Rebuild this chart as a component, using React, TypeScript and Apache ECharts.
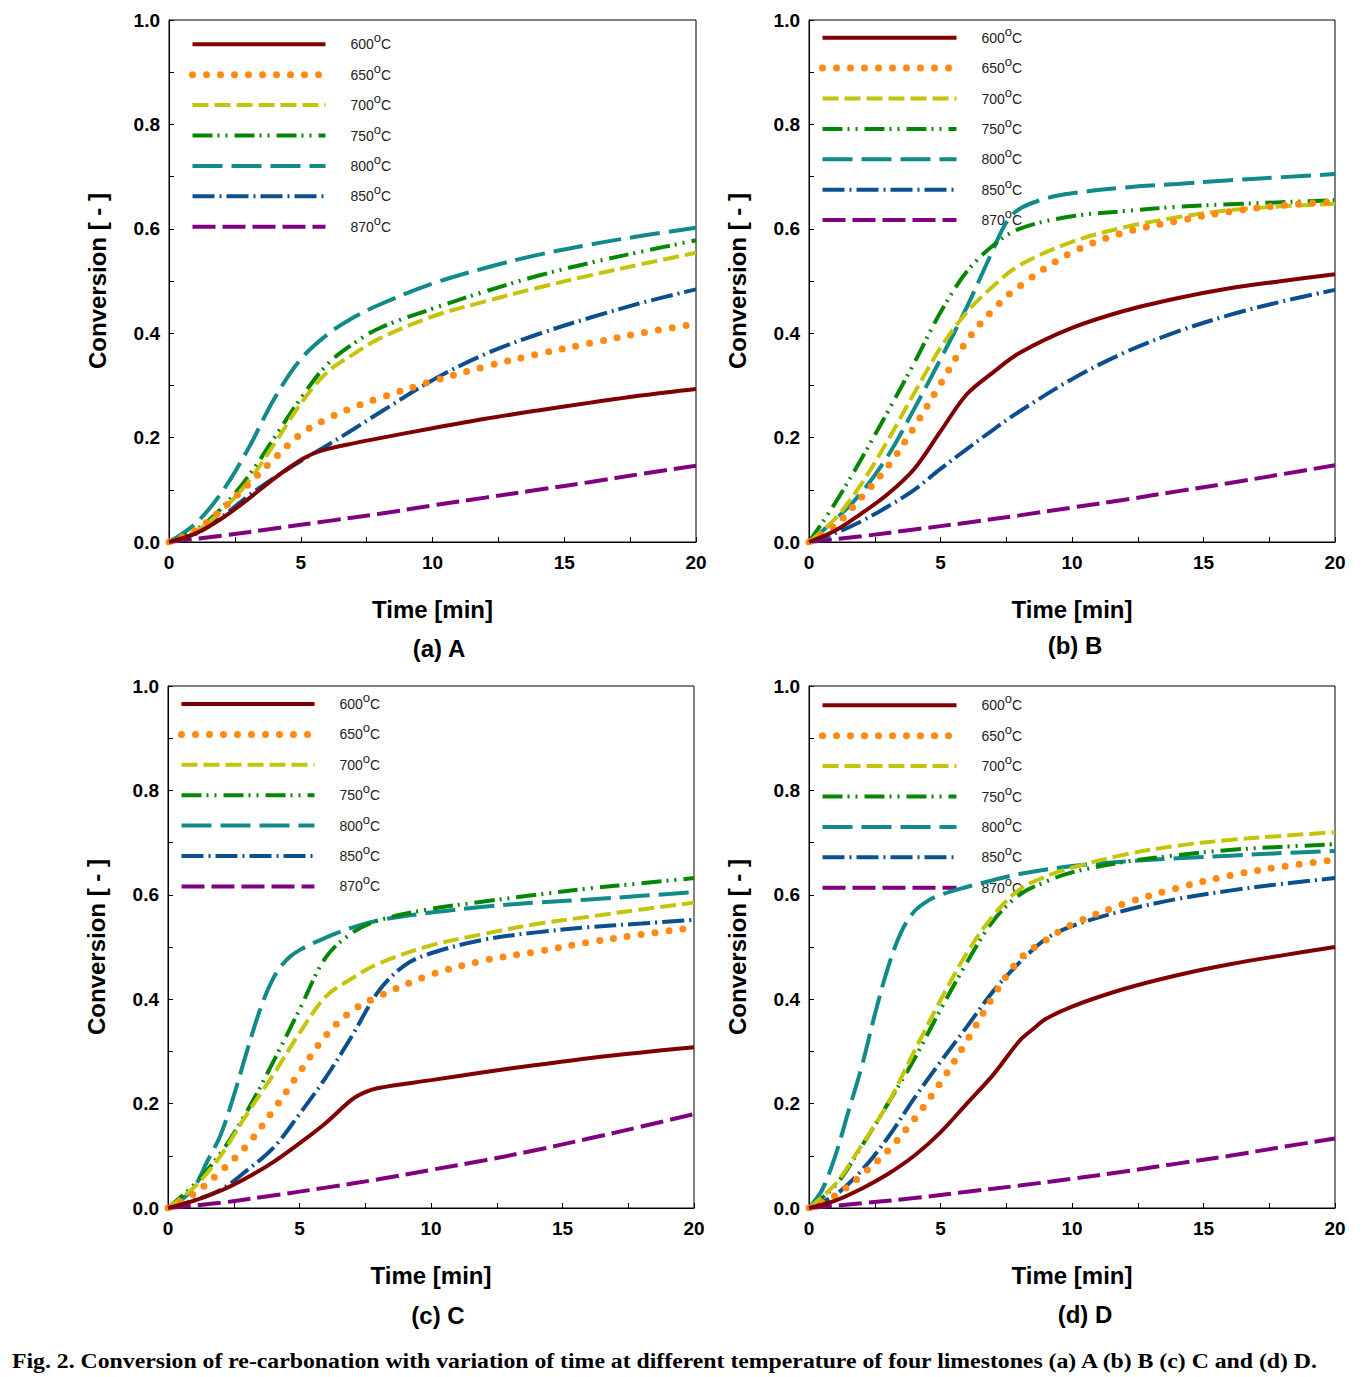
import React, { useEffect, useRef } from 'react';
import * as echarts from 'echarts';

type P = [number, number][];

const TEMPS = ['600°C', '650°C', '700°C', '750°C', '800°C', '850°C', '870°C'];
const X_TICKS = [0, 5, 10, 15, 20];
const Y_TICKS = [0, 0.2, 0.4, 0.6, 0.8, 1.0];

// (a) A
const A600: P = [[0,0],[1,0.016],[2,0.045],[3,0.082],[4,0.122],[5,0.157],[5.5,0.17],[6,0.178],[7,0.189],[8,0.199],[10,0.218],[12,0.236],[14,0.252],[16,0.267],[18,0.281],[20,0.293]];
const A650: P = [[0,0],[1,0.022],[2,0.062],[3,0.11],[4,0.16],[5,0.207],[6,0.236],[7,0.258],[8,0.276],[10,0.308],[12,0.336],[14,0.36],[16,0.381],[18,0.401],[20,0.418]];
const A700: P = [[0,0],[1,0.02],[2,0.06],[3,0.115],[4,0.188],[5,0.265],[6,0.325],[7,0.36],[8,0.39],[10,0.432],[12,0.461],[14,0.487],[16,0.511],[18,0.533],[20,0.554]];
const A750: P = [[0,0],[1,0.022],[2,0.065],[3,0.125],[4,0.2],[5,0.275],[6,0.34],[7,0.38],[8,0.41],[10,0.447],[12,0.48],[14,0.51],[16,0.535],[18,0.557],[20,0.578]];
const A800: P = [[0,0],[1,0.035],[2,0.095],[3,0.178],[4,0.275],[5,0.35],[6,0.397],[7,0.43],[8,0.455],[10,0.495],[12,0.525],[14,0.55],[16,0.57],[18,0.587],[20,0.602]];
const A850: P = [[0,0],[1,0.015],[2,0.048],[3,0.088],[4,0.123],[5,0.155],[6,0.185],[7,0.216],[8,0.248],[10,0.31],[12,0.36],[14,0.398],[16,0.43],[18,0.459],[20,0.484]];
const A870: P = [[0,0],[2,0.012],[4,0.026],[6,0.04],[8,0.054],[10,0.07],[12,0.085],[14,0.1],[16,0.115],[18,0.131],[20,0.146]];

// (b) B
const B600: P = [[0,0],[1,0.022],[2,0.055],[3,0.092],[4,0.14],[5,0.212],[6,0.283],[7,0.325],[8,0.362],[10,0.41],[12,0.443],[14,0.467],[16,0.486],[18,0.5],[20,0.513]];
const B650: P = [[0,0],[1,0.032],[2,0.086],[3,0.145],[4,0.22],[5,0.303],[6,0.385],[7,0.445],[8,0.49],[10,0.555],[12,0.593],[14,0.615],[16,0.633],[18,0.645],[20,0.652]];
const B700: P = [[0,0],[1,0.045],[2,0.112],[3,0.195],[4,0.285],[5,0.372],[6,0.44],[7,0.49],[8,0.53],[10,0.575],[12,0.603],[14,0.622],[16,0.636],[18,0.643],[20,0.648]];
const B750: P = [[0,0],[1,0.075],[2,0.16],[3,0.25],[4,0.343],[5,0.44],[6,0.518],[7,0.568],[8,0.6],[10,0.624],[12,0.634],[14,0.642],[16,0.647],[18,0.651],[20,0.655]];
const B800: P = [[0,0],[1,0.043],[2,0.095],[3,0.165],[4,0.255],[5,0.35],[6,0.45],[7,0.56],[7.5,0.612],[8,0.638],[9,0.658],[10,0.668],[12,0.679],[14,0.686],[16,0.693],[18,0.699],[20,0.705]];
const B850: P = [[0,0],[1,0.017],[2,0.04],[3,0.068],[4,0.1],[5,0.14],[6,0.178],[7,0.215],[8,0.25],[10,0.312],[12,0.363],[14,0.403],[16,0.435],[18,0.461],[20,0.483]];
const B870: P = [[0,0],[2,0.011],[4,0.024],[6,0.037],[8,0.051],[10,0.066],[12,0.081],[14,0.097],[16,0.113],[18,0.13],[20,0.147]];

// (c) C
const C600: P = [[0,0],[1,0.014],[2,0.033],[3,0.058],[4,0.088],[5,0.124],[6,0.163],[7,0.208],[7.5,0.222],[8,0.23],[10,0.245],[12,0.26],[14,0.274],[16,0.287],[18,0.298],[20,0.308]];
const C650: P = [[0,0],[1,0.028],[2,0.07],[3,0.12],[4,0.187],[5,0.26],[6,0.33],[7,0.378],[8,0.405],[10,0.447],[12,0.474],[14,0.491],[16,0.509],[18,0.524],[20,0.537]];
const C700: P = [[0,0],[1,0.04],[2,0.1],[3,0.18],[4,0.255],[5,0.335],[6,0.405],[7,0.44],[8,0.468],[10,0.503],[12,0.525],[14,0.544],[16,0.558],[18,0.572],[20,0.585]];
const C750: P = [[0,0],[1,0.045],[2,0.105],[3,0.185],[4,0.28],[5,0.38],[6,0.48],[7,0.527],[8,0.551],[10,0.573],[12,0.587],[14,0.6],[16,0.612],[18,0.622],[20,0.632]];
const C800: P = [[0,0],[0.5,0.015],[1,0.04],[1.5,0.09],[2,0.14],[2.5,0.215],[3,0.3],[3.5,0.38],[4,0.44],[4.5,0.475],[5,0.494],[6,0.518],[7,0.537],[8,0.551],[10,0.566],[12,0.577],[14,0.585],[16,0.591],[18,0.598],[20,0.605]];
const C850: P = [[0,0],[1,0.015],[2,0.035],[3,0.072],[4,0.115],[5,0.18],[6,0.25],[7,0.33],[8,0.415],[9,0.465],[10,0.488],[12,0.514],[14,0.528],[16,0.538],[18,0.545],[20,0.552]];
const C870: P = [[0,0],[2,0.01],[4,0.024],[6,0.039],[8,0.055],[10,0.073],[12,0.091],[14,0.111],[16,0.133],[18,0.156],[20,0.18]];

// (d) D
const D600: P = [[0,0],[1,0.014],[2,0.037],[3,0.065],[4,0.1],[5,0.145],[6,0.2],[7,0.255],[8,0.32],[8.5,0.342],[9,0.362],[10,0.386],[12,0.42],[14,0.446],[16,0.467],[18,0.484],[20,0.5]];
const D650: P = [[0,0],[1,0.024],[2,0.063],[3,0.11],[4,0.17],[5,0.24],[6,0.32],[7,0.405],[8,0.476],[9,0.513],[10,0.543],[12,0.583],[14,0.613],[16,0.637],[18,0.654],[20,0.667]];
const D700: P = [[0,0],[1,0.046],[2,0.12],[3,0.2],[4,0.3],[5,0.398],[6,0.488],[7,0.56],[8,0.61],[9,0.635],[10,0.652],[12,0.677],[14,0.694],[16,0.705],[18,0.713],[20,0.72]];
const D750: P = [[0,0],[1,0.043],[2,0.118],[3,0.2],[4,0.285],[5,0.38],[6,0.47],[7,0.55],[8,0.6],[9,0.625],[10,0.643],[12,0.663],[14,0.676],[16,0.686],[18,0.692],[20,0.697]];
const D800: P = [[0,0],[0.5,0.035],[1,0.1],[1.5,0.185],[2,0.27],[2.5,0.37],[3,0.46],[3.5,0.528],[4,0.568],[4.5,0.588],[5,0.6],[6,0.615],[7,0.628],[8,0.64],[10,0.655],[12,0.664],[14,0.67],[16,0.675],[18,0.68],[20,0.684]];
const D850: P = [[0,0],[1,0.025],[2,0.072],[3,0.135],[4,0.21],[5,0.28],[6,0.347],[7,0.415],[8,0.47],[9,0.515],[10,0.54],[12,0.57],[14,0.592],[16,0.608],[18,0.621],[20,0.632]];
const D870: P = [[0,0],[2,0.009],[4,0.019],[6,0.031],[8,0.043],[10,0.056],[12,0.07],[14,0.085],[16,0.1],[18,0.117],[20,0.133]];

const PANEL_LABELS = ['(a) A', '(b) B', '(c) C', '(d) D'];
const PANEL_DATA: P[][] = [
  [A600, A650, A700, A750, A800, A850, A870],
  [B600, B650, B700, B750, B800, B850, B870],
  [C600, C650, C700, C750, C800, C850, C870],
  [D600, D650, D700, D750, D800, D850, D870],
];
const CAPTION = 'Fig. 2. Conversion of re-carbonation with variation of time at different temperature of four limestones (a) A (b) B (c) C and (d) D.';

// ---- styling / layout (not data) ----
const LINE_STYLES: any[] = [
  { color: '#800000', width: 4, type: 'solid' },
  { color: '#ff8a14', width: 7, type: [0, 14], cap: 'round' },
  { color: '#c4c40a', width: 4, type: [16, 6] },
  { color: '#058705', width: 4, type: [20, 5, 2, 6, 2, 7] },
  { color: '#118a8a', width: 4, type: [30, 9] },
  { color: '#0b4f8f', width: 4, type: [22, 5, 2, 5] },
  { color: '#800080', width: 4, type: [23, 7] },
];
const GRIDS = [
  { left: 169, top: 20, width: 527, height: 522 },
  { left: 809, top: 20, width: 526, height: 522 },
  { left: 168, top: 686, width: 526, height: 522 },
  { left: 809, top: 686, width: 526, height: 522 },
];
const LEGENDS = [
  { left: 189, top: 31.3, w: 133 },
  { left: 819, top: 24.7, w: 134 },
  { left: 178, top: 691, w: 133 },
  { left: 819, top: 692.3, w: 134 },
];
const TITLE_POS = [
  { x: 439, y: 648 },
  { x: 1075, y: 645 },
  { x: 438, y: 1315 },
  { x: 1085, y: 1314 },
];
const SANS = 'Liberation Sans, Arial, sans-serif';

function buildOption() {
  const grid = GRIDS.map((g) => ({ ...g, show: true, borderColor: '#000', borderWidth: 1, backgroundColor: 'transparent' }));
  const xAxis = GRIDS.map((_, i) => ({
    type: 'value',
    gridIndex: i,
    min: X_TICKS[0],
    max: X_TICKS[X_TICKS.length - 1],
    interval: X_TICKS[1] - X_TICKS[0],
    name: 'Time [min]',
    nameLocation: 'middle',
    nameGap: 55,
    nameTextStyle: { fontFamily: SANS, fontSize: 24, fontWeight: 'bold', color: '#000' },
    axisLine: { show: true, lineStyle: { color: '#000', width: 1 } },
    axisTick: { show: true, inside: true, length: 5, lineStyle: { color: '#000' } },
    minorTick: { show: true, splitNumber: 2, length: 5, lineStyle: { color: '#000' } },
    splitLine: { show: false },
    axisLabel: { margin: 11, fontFamily: SANS, fontSize: 19, fontWeight: 'bold', color: '#000' },
  }));
  const yAxis = GRIDS.map((_, i) => ({
    type: 'value',
    gridIndex: i,
    min: Y_TICKS[0],
    max: Y_TICKS[Y_TICKS.length - 1],
    interval: 0.2,
    name: 'Conversion [ - ]',
    nameLocation: 'middle',
    nameGap: 60,
    nameTextStyle: { fontFamily: SANS, fontSize: 24, fontWeight: 'bold', color: '#000' },
    axisLine: { show: true, lineStyle: { color: '#000', width: 1 } },
    axisTick: { show: true, inside: true, length: 5, lineStyle: { color: '#000' } },
    minorTick: { show: true, splitNumber: 2, length: 5, lineStyle: { color: '#000' } },
    splitLine: { show: false },
    axisLabel: {
      margin: 9,
      fontFamily: SANS,
      fontSize: 19,
      fontWeight: 'bold',
      color: '#000',
      formatter: (v: number) => v.toFixed(1),
    },
  }));
  const series: any[] = [];
  PANEL_DATA.forEach((panel, gi) => {
    panel.forEach((pts, si) => {
      const ls = LINE_STYLES[si];
      series.push({
        type: 'line',
        name: TEMPS[si],
        xAxisIndex: gi,
        yAxisIndex: gi,
        data: pts,
        symbol: 'none',
        showSymbol: false,
        smooth: 0.35,
        color: ls.color,
        lineStyle: { color: ls.color, width: ls.width, type: ls.type, cap: ls.cap || 'butt' },
        z: 10 - si,
      });
    });
  });
  const legend = LEGENDS.map((l) => ({
    orient: 'vertical',
    left: l.left,
    top: l.top,
    padding: 0,
    itemWidth: l.w,
    itemHeight: 21,
    itemGap: 4.4,
    selectedMode: false,
    itemStyle: { opacity: 0 },
    data: TEMPS.map((t, si) => ({
      name: t,
      lineStyle: { width: LINE_STYLES[si].width, type: LINE_STYLES[si].type, cap: LINE_STYLES[si].cap || 'butt', color: LINE_STYLES[si].color, opacity: 1 },
    })),
    formatter: (name: string) => `{g| }{n|${name.replace('°C', '')}}{s|o}{n|C}`,
    textStyle: {
      color: '#222',
      fontFamily: SANS,
      lineHeight: 21,
      rich: {
        g: { width: 20, lineHeight: 21 },
        n: { fontSize: 14, fontFamily: SANS, color: '#222', lineHeight: 21 },
        s: { fontSize: 13, fontFamily: SANS, color: '#222', lineHeight: 21, padding: [0, 0, 13, 0] },
      },
    },
  }));
  const title: any[] = PANEL_LABELS.map((t, i) => ({
    text: t,
    left: TITLE_POS[i].x,
    top: TITLE_POS[i].y - 12,
    textAlign: 'center',
    padding: 0,
    textStyle: { fontFamily: SANS, fontSize: 24, fontWeight: 'bold', color: '#000' },
  }));
  return {
    animation: false,
    backgroundColor: '#fff',
    title,
    grid,
    xAxis,
    yAxis,
    legend,
    series,
    graphic: [
      {
        type: 'text',
        x: 12,
        y: 1361,
        scaleX: 1.08,
        style: {
          text: CAPTION,
          font: 'bold 22px "Liberation Serif", "Times New Roman", serif',
          fill: '#000',
          verticalAlign: 'middle',
          align: 'left',
        },
      },
    ],
  };
}

export default function App() {
  const ref = useRef<HTMLDivElement>(null);
  useEffect(() => {
    if (!ref.current) return;
    const chart = echarts.init(ref.current, undefined, { renderer: 'svg' });
    chart.setOption(buildOption() as any);
    return () => chart.dispose();
  }, []);
  return (
    <div
      ref={ref}
      style={{ position: 'absolute', left: 0, top: 0, width: 1365, height: 1377, background: '#fff' }}
    />
  );
}
